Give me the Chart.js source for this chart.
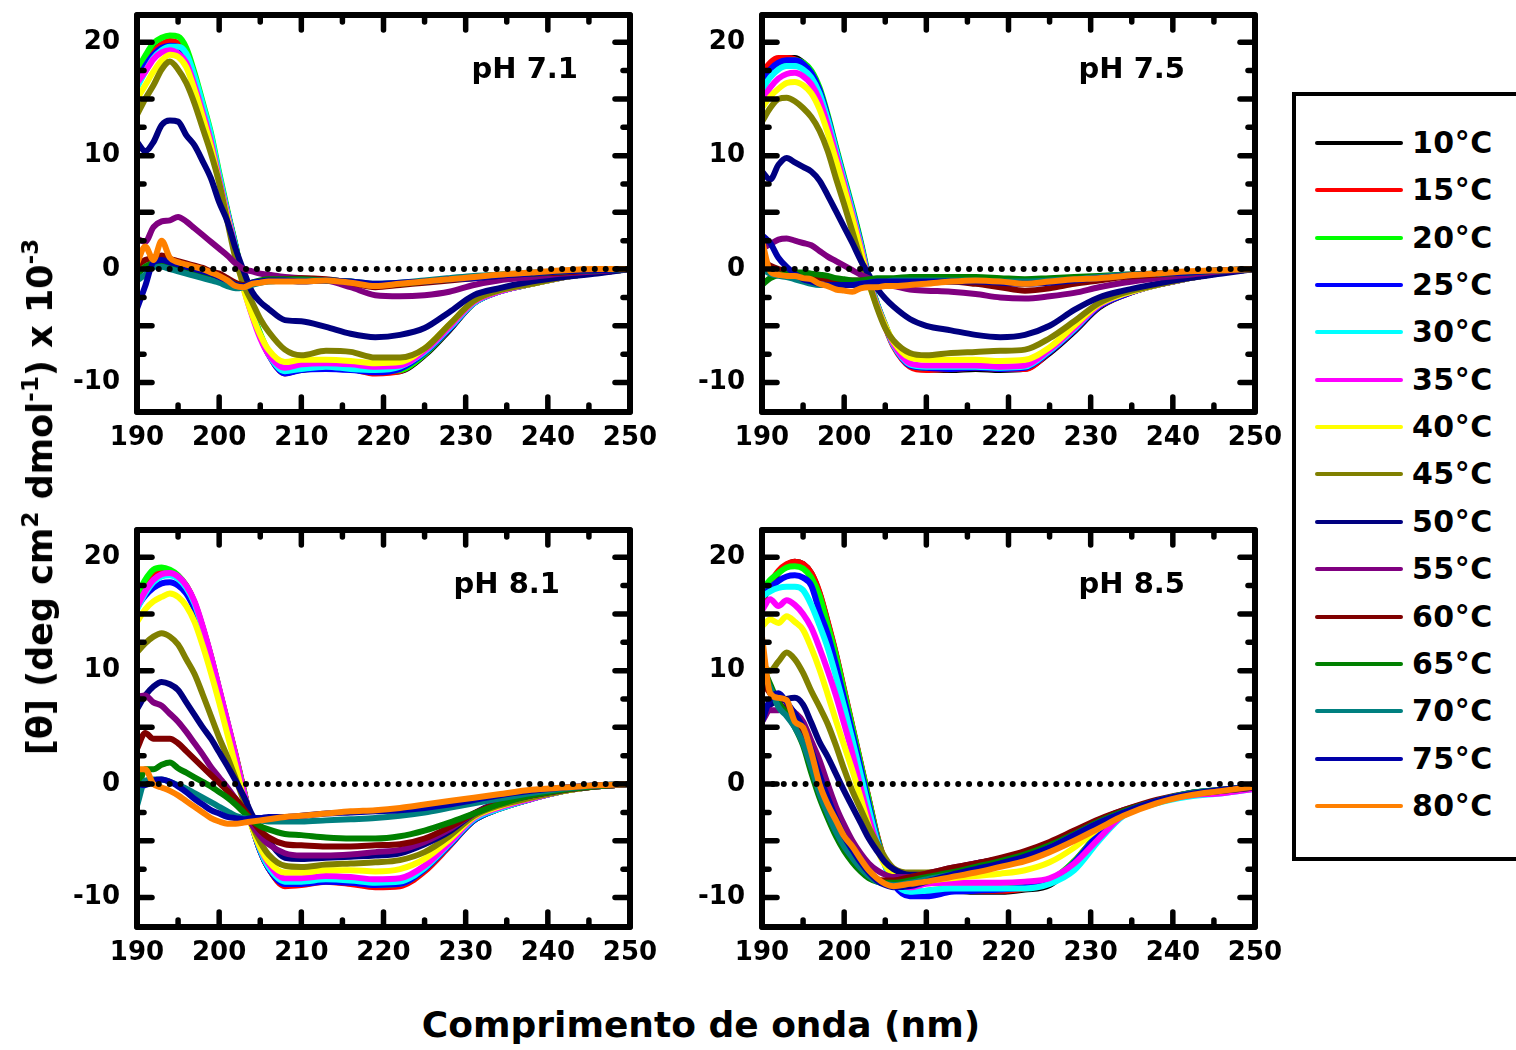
<!DOCTYPE html>
<html>
<head>
<meta charset="utf-8">
<script src="https://cdn.jsdelivr.net/npm/chart.js@4.4.1/dist/chart.umd.min.js"></script>
<style>
  html, body { margin: 0; padding: 0; background: #fff; width: 1516px; height: 1050px; overflow: hidden;
               font-family: 'DejaVu Sans', Verdana, sans-serif; font-weight: bold; color: #000; }
  canvas.panel { position: absolute; }
  #legend { position: absolute; left: 1292px; top: 92px; width: 260px; height: 761px; border: 4px solid #000; }
  #legend .row { position: absolute; left: 0; height: 0; }
  #legend .swatch { position: absolute; left: 19px; width: 88px; height: 4px; top: -2px; border-radius: 2px; }
  #legend .lbl { position: absolute; left: 116px; top: -18px; font-size: 30px; letter-spacing: 0.5px; line-height: 36px; white-space: nowrap; }
  #ytitle { position: absolute; left: 40px; top: 497px; transform: translate(-50%, -50%) rotate(-90deg);
            white-space: nowrap; font-size: 35px; line-height: 40px; }
  #xtitle { position: absolute; left: 701px; top: 1025px; transform: translate(-50%, -50%);
            white-space: nowrap; font-size: 36px; line-height: 40px; }
  .sup { font-size: 0.66em; vertical-align: 0.6em; line-height: 0; }
</style>
</head>
<body>
<canvas id="p71" class="panel" width="610" height="470" style="left:50px;top:0px"></canvas>
<canvas id="p75" class="panel" width="610" height="470" style="left:675px;top:0px"></canvas>
<canvas id="p81" class="panel" width="610" height="470" style="left:50px;top:515px"></canvas>
<canvas id="p85" class="panel" width="610" height="470" style="left:675px;top:515px"></canvas>
<div id="legend"></div>
<div id="ytitle">[θ] (deg cm<span class="sup">2</span> dmol<span class="sup">-1</span>) x 10<span class="sup">-3</span></div>
<div id="xtitle">Comprimento de onda (nm)</div>

<script>
'use strict';

// ── DATA ──────────────────────────────────────────────────────────
var WAVELENGTH = [190,191,192,193,194,195,196,197,198,199,200,201,202,203,204,205,206,208,210,213,216,219,222,225,228,231,234,238,242,246,250];
var TEMPS      = ['10°C','15°C','20°C','25°C','30°C','35°C','40°C','45°C','50°C','55°C','60°C','65°C','70°C','75°C','80°C'];
var COLORS     = ['#000000','#ff0000','#00ff00','#0000ff','#00ffff','#ff00ff','#ffff00','#808000',
                  '#000080','#800080','#800000','#008000','#008080','#0000a8','#ff8000'];
var X_TICKS    = [190,195,200,205,210,215,220,225,230,235,240,245,250];
var Y_TICKS    = [-10,-7.5,-5,-2.5,0,2.5,5,7.5,10,12.5,15,17.5,20];
var PANEL_TITLES = ['pH 7.1','pH 7.5','pH 8.1','pH 8.5'];

// one row per temperature (10 → 80 °C), values x 10^-3
var PH71 = [
  [17.0,18.2,19.2,19.8,20.0,19.8,18.8,16.6,14.2,11.6,8.2,5.0,2.0,-1.5,-3.8,-5.8,-7.4,-9.1,-8.9,-8.7,-8.8,-9.1,-9.0,-7.6,-5.4,-3.0,-2.0,-1.3,-0.7,-0.3,0.0],
  [16.8,18.0,19.1,19.8,20.1,19.9,18.9,16.7,14.3,11.7,8.3,5.0,2.0,-1.5,-3.9,-5.9,-7.5,-9.2,-8.8,-8.6,-8.8,-9.2,-9.0,-7.5,-5.3,-3.0,-2.0,-1.3,-0.7,-0.3,0.0],
  [17.5,18.8,19.9,20.4,20.6,20.5,19.5,17.3,14.7,12.0,8.5,5.2,2.1,-1.3,-3.7,-5.7,-7.3,-9.0,-8.7,-8.5,-8.7,-9.0,-8.9,-7.5,-5.3,-3.0,-2.0,-1.3,-0.7,-0.3,0.0],
  [16.6,17.9,18.9,19.5,19.7,19.6,18.7,16.6,14.1,11.5,8.1,5.0,1.9,-1.5,-3.9,-5.9,-7.5,-9.2,-8.9,-8.8,-8.9,-9.1,-8.8,-7.4,-5.3,-3.0,-2.0,-1.3,-0.7,-0.3,0.0],
  [16.0,17.4,18.6,19.3,19.6,19.6,19.0,17.0,14.5,11.8,8.3,5.0,1.9,-1.5,-3.9,-5.9,-7.5,-9.0,-8.8,-8.6,-8.8,-8.9,-8.6,-7.3,-5.2,-3.0,-2.0,-1.3,-0.7,-0.3,0.0],
  [16.4,17.4,18.5,19.1,19.3,19.0,18.2,16.2,13.8,11.2,7.9,4.8,1.7,-1.7,-4.1,-6.1,-7.5,-8.7,-8.4,-8.3,-8.4,-8.6,-8.5,-7.2,-5.1,-2.9,-2.0,-1.3,-0.7,-0.3,0.0],
  [15.0,16.2,17.4,18.4,18.9,18.7,17.8,15.8,13.4,10.8,7.6,4.5,1.4,-1.8,-4.0,-5.8,-7.1,-8.2,-8.0,-8.0,-8.1,-8.3,-8.2,-7.0,-4.9,-2.8,-1.9,-1.3,-0.7,-0.3,0.0],
  [13.6,15.0,16.2,17.6,18.3,17.6,16.4,14.6,12.4,10.2,7.6,4.2,0.9,-1.4,-2.9,-4.4,-5.5,-7.1,-7.6,-7.2,-7.3,-7.8,-7.8,-7.0,-4.9,-2.8,-1.9,-1.3,-0.7,-0.3,0.0],
  [11.2,10.4,11.2,12.7,13.1,13.0,11.8,10.9,9.5,8.0,5.9,4.2,1.8,-0.2,-2.0,-2.9,-3.5,-4.5,-4.6,-5.1,-5.7,-6.0,-5.8,-5.2,-3.8,-2.3,-1.7,-1.1,-0.7,-0.4,0.0],
  [2.7,2.4,3.7,4.2,4.3,4.6,4.2,3.6,3.0,2.4,1.8,1.2,0.5,0.0,-0.2,-0.4,-0.5,-0.7,-0.8,-1.0,-1.6,-2.3,-2.4,-2.3,-2.0,-1.4,-1.0,-0.7,-0.4,-0.2,0.0],
  [0.3,0.8,1.0,1.2,0.9,0.7,0.5,0.3,0.1,-0.2,-0.4,-0.8,-1.2,-1.4,-1.3,-1.1,-1.0,-0.9,-0.8,-0.9,-1.2,-1.6,-1.4,-1.2,-1.0,-0.8,-0.6,-0.4,-0.3,-0.1,0.0],
  [-0.5,0.2,0.5,0.4,0.2,0.0,-0.2,-0.3,-0.4,-0.5,-0.7,-1.0,-1.4,-1.5,-1.2,-1.0,-0.9,-0.9,-0.9,-1.0,-1.1,-1.4,-1.3,-1.1,-0.9,-0.7,-0.5,-0.4,-0.2,-0.1,0.0],
  [-1.0,-0.5,0.2,0.2,0.0,-0.2,-0.4,-0.6,-0.8,-1.0,-1.2,-1.5,-1.7,-1.6,-1.4,-1.2,-1.1,-1.0,-1.0,-1.0,-1.1,-1.3,-1.2,-1.0,-0.8,-0.6,-0.5,-0.3,-0.2,-0.1,0.0],
  [-3.5,-1.5,0.6,0.8,0.6,0.4,0.2,0.0,-0.2,-0.4,-0.7,-1.0,-1.4,-1.5,-1.2,-1.1,-1.0,-1.0,-1.1,-1.0,-1.1,-1.3,-1.2,-1.1,-0.9,-0.8,-0.6,-0.4,-0.2,-0.1,0.0],
  [0.5,2.0,0.8,2.5,1.0,0.6,0.4,0.2,0.0,-0.3,-0.6,-1.0,-1.5,-1.6,-1.3,-1.2,-1.1,-1.1,-1.1,-1.0,-1.2,-1.5,-1.3,-1.1,-0.9,-0.7,-0.5,-0.3,-0.1,0.0,0.0]
];

var PH75 = [
  [16.8,17.8,18.4,18.6,18.6,18.2,17.4,15.8,13.4,10.6,7.9,5.2,2.3,-0.9,-3.1,-5.0,-6.7,-8.5,-8.8,-8.9,-8.8,-8.9,-8.8,-7.4,-5.5,-3.4,-2.3,-1.4,-0.8,-0.3,0.0],
  [17.3,18.2,18.6,18.6,18.5,18.1,17.3,15.7,13.3,10.5,7.8,5.1,2.2,-1.0,-3.2,-5.1,-6.8,-8.6,-8.9,-8.8,-8.7,-8.8,-8.8,-7.3,-5.4,-3.3,-2.3,-1.4,-0.8,-0.3,0.0],
  [15.8,17.2,18.0,18.3,18.4,18.2,17.5,16.0,13.6,10.8,8.1,5.4,2.5,-0.7,-3.0,-4.9,-6.6,-8.4,-8.7,-8.7,-8.6,-8.7,-8.6,-7.2,-5.3,-3.2,-2.2,-1.4,-0.8,-0.3,0.0],
  [16.5,17.6,18.2,18.4,18.4,18.1,17.3,15.8,13.4,10.6,7.9,5.2,2.3,-0.9,-3.1,-5.0,-6.7,-8.5,-8.7,-8.8,-8.7,-8.8,-8.7,-7.3,-5.4,-3.3,-2.3,-1.4,-0.8,-0.3,0.0],
  [15.8,16.9,17.6,17.9,17.9,17.6,16.9,15.5,13.2,10.5,7.8,5.1,2.2,-0.9,-3.1,-5.0,-6.7,-8.4,-8.6,-8.6,-8.6,-8.7,-8.6,-7.2,-5.3,-3.2,-2.2,-1.4,-0.8,-0.3,0.0],
  [14.8,16.0,16.8,17.2,17.3,17.0,16.3,14.9,12.7,10.1,7.5,4.8,2.0,-1.0,-3.2,-5.0,-6.6,-8.3,-8.5,-8.5,-8.5,-8.6,-8.5,-7.1,-5.2,-3.2,-2.2,-1.4,-0.8,-0.3,0.0],
  [14.2,15.2,15.9,16.4,16.5,16.2,15.5,14.1,12.0,9.6,7.1,4.5,1.7,-1.2,-3.3,-5.0,-6.4,-7.8,-8.0,-8.0,-8.0,-8.1,-8.0,-6.9,-5.0,-3.1,-2.2,-1.4,-0.8,-0.3,0.0],
  [13.0,14.2,15.0,15.1,14.8,14.2,13.4,12.2,10.4,8.0,5.7,3.3,0.9,-1.2,-3.4,-5.2,-6.3,-7.4,-7.6,-7.4,-7.3,-7.2,-7.1,-6.1,-4.6,-3.0,-2.1,-1.4,-0.8,-0.3,0.0],
  [8.6,7.9,9.2,9.8,9.4,9.0,8.6,7.8,6.5,5.1,3.7,2.3,0.8,-0.5,-1.7,-2.6,-3.3,-4.4,-5.0,-5.4,-5.8,-6.0,-5.8,-5.0,-3.6,-2.5,-1.9,-1.3,-0.8,-0.4,0.0],
  [1.8,2.2,2.6,2.7,2.5,2.3,2.1,1.6,1.1,0.7,0.3,-0.1,-0.5,-0.8,-1.1,-1.4,-1.5,-1.8,-1.9,-2.0,-2.2,-2.5,-2.6,-2.4,-2.1,-1.6,-1.2,-0.8,-0.5,-0.2,0.0],
  [0.7,0.3,0.0,-0.2,-0.5,-0.6,-0.7,-0.8,-0.9,-0.9,-1.0,-1.0,-1.0,-1.0,-1.0,-1.0,-1.0,-1.0,-1.1,-1.1,-1.3,-1.6,-1.9,-1.7,-1.3,-1.0,-0.7,-0.5,-0.3,-0.1,0.0],
  [-1.4,-0.8,-0.5,-0.4,-0.3,-0.3,-0.4,-0.5,-0.6,-0.8,-0.9,-1.0,-1.0,-0.9,-0.8,-0.8,-0.8,-0.7,-0.7,-0.7,-0.7,-0.8,-0.9,-0.8,-0.7,-0.6,-0.5,-0.4,-0.3,-0.1,0.0],
  [0.0,-0.4,-0.6,-0.7,-0.9,-1.1,-1.3,-1.4,-1.4,-1.4,-1.4,-1.4,-1.3,-1.2,-1.1,-1.1,-1.0,-1.0,-1.0,-1.0,-1.0,-1.1,-1.1,-1.0,-0.9,-0.7,-0.5,-0.4,-0.3,-0.1,0.0],
  [3.0,2.3,1.0,0.2,-0.4,-0.9,-1.1,-1.3,-1.4,-1.4,-1.4,-1.4,-1.3,-1.2,-1.1,-1.1,-1.1,-1.1,-1.1,-1.1,-1.1,-1.2,-1.3,-1.2,-1.0,-0.8,-0.6,-0.4,-0.3,-0.1,0.0],
  [2.5,-0.2,-0.5,-0.6,-0.6,-0.8,-0.9,-1.3,-1.5,-1.8,-1.9,-2.0,-1.7,-1.6,-1.6,-1.5,-1.5,-1.4,-1.3,-1.1,-1.0,-1.1,-1.3,-1.1,-0.9,-0.8,-0.6,-0.4,-0.2,-0.1,0.0]
];

var PH81 = [
  [16.0,17.5,18.4,18.7,18.6,18.2,17.4,15.9,13.7,11.2,8.3,5.4,2.5,-0.6,-3.6,-5.9,-7.4,-8.9,-8.8,-8.5,-8.7,-9.0,-8.9,-7.6,-5.4,-3.2,-2.2,-1.3,-0.6,-0.2,0.0],
  [15.8,17.4,18.4,18.7,18.7,18.3,17.5,16.0,13.8,11.3,8.4,5.5,2.6,-0.5,-3.6,-5.9,-7.4,-9.0,-8.9,-8.6,-8.8,-9.1,-9.0,-7.7,-5.5,-3.2,-2.2,-1.3,-0.6,-0.2,0.0],
  [16.6,18.0,18.9,19.1,18.9,18.4,17.5,16.0,13.8,11.2,8.3,5.4,2.5,-0.6,-3.6,-5.8,-7.3,-8.7,-8.6,-8.4,-8.6,-8.9,-8.8,-7.5,-5.4,-3.2,-2.2,-1.3,-0.6,-0.2,0.0],
  [15.6,16.6,17.3,17.7,17.8,17.5,16.8,15.4,13.3,10.9,8.1,5.2,2.3,-0.8,-3.7,-5.9,-7.4,-8.8,-8.8,-8.6,-8.7,-8.9,-8.8,-7.5,-5.4,-3.2,-2.2,-1.3,-0.6,-0.2,0.0],
  [15.4,16.8,17.8,18.3,18.4,18.1,17.3,15.9,13.7,11.2,8.3,5.4,2.4,-0.7,-3.6,-5.8,-7.3,-8.6,-8.6,-8.4,-8.5,-8.7,-8.6,-7.4,-5.3,-3.1,-2.2,-1.3,-0.6,-0.2,0.0],
  [15.6,17.0,18.0,18.5,18.6,18.3,17.5,16.1,13.9,11.3,8.4,5.5,2.5,-0.7,-3.5,-5.6,-7.0,-8.3,-8.3,-8.1,-8.2,-8.4,-8.3,-7.2,-5.2,-3.0,-2.1,-1.3,-0.6,-0.2,0.0],
  [14.3,15.4,16.1,16.5,16.8,16.5,15.7,14.3,12.2,9.8,7.2,4.4,1.6,-1.3,-3.8,-5.6,-6.8,-7.8,-7.8,-7.6,-7.6,-7.7,-7.5,-6.6,-4.9,-2.9,-2.0,-1.2,-0.6,-0.2,0.0],
  [11.6,12.4,13.0,13.3,13.0,12.3,11.0,9.7,7.9,6.0,4.1,2.4,0.5,-1.5,-3.6,-5.1,-6.2,-7.2,-7.3,-7.1,-7.0,-6.9,-6.7,-6.0,-4.6,-2.8,-1.9,-1.2,-0.6,-0.2,0.0],
  [6.6,7.8,8.6,9.0,8.8,8.3,7.2,6.1,5.0,4.0,2.8,1.6,0.3,-1.1,-2.7,-4.0,-5.0,-6.5,-6.6,-6.5,-6.4,-6.3,-6.1,-5.3,-4.2,-2.6,-1.6,-1.0,-0.5,-0.2,0.0],
  [7.7,7.8,7.2,6.9,6.2,5.5,4.6,3.6,2.6,1.5,0.6,-0.3,-1.3,-2.4,-3.6,-4.6,-5.3,-6.1,-6.3,-6.3,-6.2,-6.0,-5.8,-5.1,-4.0,-2.6,-1.7,-1.0,-0.5,-0.2,0.0],
  [3.1,4.5,4.0,4.0,4.0,3.6,2.9,2.2,1.5,0.8,0.1,-0.6,-1.3,-2.2,-3.2,-4.1,-4.7,-5.3,-5.4,-5.5,-5.5,-5.4,-5.3,-4.8,-3.8,-2.6,-1.7,-1.0,-0.5,-0.2,0.0],
  [-1.0,1.3,1.3,1.7,1.9,1.4,1.0,0.6,0.2,-0.2,-0.7,-1.2,-1.8,-2.5,-3.2,-3.7,-4.0,-4.4,-4.5,-4.7,-4.8,-4.8,-4.6,-4.1,-3.4,-2.6,-1.8,-1.0,-0.5,-0.2,0.0],
  [-1.9,0.3,0.4,0.4,0.2,-0.1,-0.4,-0.8,-1.2,-1.6,-2.0,-2.4,-2.8,-3.0,-3.1,-3.2,-3.3,-3.3,-3.3,-3.2,-3.1,-3.0,-2.8,-2.5,-2.1,-1.7,-1.3,-0.8,-0.4,-0.1,0.0],
  [0.0,-0.1,0.3,0.4,0.2,-0.2,-0.7,-1.3,-1.8,-2.3,-2.6,-2.9,-3.0,-3.1,-3.0,-3.0,-2.9,-2.9,-2.8,-2.6,-2.5,-2.4,-2.3,-2.1,-1.8,-1.4,-1.0,-0.6,-0.3,-0.1,0.0],
  [1.3,1.3,0.0,-0.3,-0.6,-1.0,-1.5,-2.0,-2.5,-3.0,-3.3,-3.5,-3.5,-3.4,-3.3,-3.2,-3.1,-2.9,-2.8,-2.6,-2.4,-2.3,-2.1,-1.8,-1.5,-1.2,-0.9,-0.5,-0.3,-0.1,0.0]
];

var PH85 = [
  [16.0,17.5,18.6,19.3,19.6,19.4,18.6,16.8,14.2,11.4,8.2,5.0,1.8,-1.4,-4.6,-7.0,-8.6,-9.8,-9.6,-9.4,-9.5,-9.5,-9.3,-8.9,-7.0,-4.4,-2.6,-1.6,-0.9,-0.6,-0.3],
  [16.2,17.7,18.8,19.4,19.6,19.4,18.6,16.9,14.3,11.5,8.3,5.1,1.9,-1.3,-4.5,-6.9,-8.5,-9.7,-9.5,-9.3,-9.4,-9.4,-9.2,-8.7,-6.8,-4.3,-2.5,-1.5,-0.9,-0.6,-0.3],
  [17.1,18.0,18.6,19.1,19.2,19.0,18.2,16.6,14.0,11.3,8.1,5.0,1.8,-1.4,-4.6,-7.0,-8.6,-9.6,-9.4,-9.2,-9.2,-9.2,-9.0,-8.5,-6.8,-4.3,-2.5,-1.5,-0.9,-0.6,-0.3],
  [16.5,17.3,17.9,18.3,18.4,18.2,17.5,15.2,13.2,10.5,7.5,4.5,1.4,-1.8,-4.8,-7.2,-8.8,-9.9,-9.9,-9.5,-9.4,-9.3,-9.1,-8.6,-6.9,-4.4,-2.6,-1.6,-0.9,-0.6,-0.3],
  [16.5,17.0,17.3,17.4,17.4,17.1,15.8,14.0,12.0,9.5,6.8,3.9,0.9,-2.2,-5.0,-7.2,-8.6,-9.5,-9.4,-9.2,-9.2,-9.2,-9.2,-8.8,-7.6,-5.0,-2.8,-1.7,-1.1,-0.8,-0.4],
  [15.3,16.3,15.7,16.2,15.8,15.0,13.8,12.0,10.0,7.8,5.3,2.7,-0.3,-3.0,-5.3,-7.0,-8.1,-9.1,-8.8,-8.7,-8.7,-8.7,-8.6,-8.3,-7.0,-4.8,-2.7,-1.6,-1.0,-0.8,-0.4],
  [13.9,14.5,14.2,14.8,14.3,13.6,12.0,10.1,7.9,5.6,3.4,1.2,-1.2,-3.7,-5.7,-7.2,-8.0,-8.7,-8.5,-8.3,-8.1,-7.9,-7.6,-6.9,-5.6,-3.9,-2.5,-1.5,-0.9,-0.6,-0.3],
  [10.5,10.0,10.8,11.6,11.0,9.8,8.2,6.8,5.3,3.4,1.3,-0.6,-2.2,-3.8,-5.2,-6.5,-7.4,-7.8,-7.8,-7.6,-7.2,-6.8,-6.2,-5.3,-4.3,-3.3,-2.4,-1.5,-0.9,-0.6,-0.3],
  [6.0,7.0,7.3,7.5,7.6,7.0,5.4,3.7,2.4,0.9,-0.6,-2.0,-3.4,-4.8,-5.9,-6.9,-7.5,-8.0,-8.0,-7.5,-7.0,-6.6,-6.1,-5.3,-4.3,-3.3,-2.4,-1.5,-0.9,-0.6,-0.3],
  [5.5,6.5,6.5,6.8,6.3,5.5,3.8,2.1,0.0,-2.0,-3.6,-5.0,-6.1,-7.0,-7.6,-8.0,-8.2,-8.2,-7.9,-7.4,-7.0,-6.6,-6.0,-5.2,-4.2,-3.2,-2.3,-1.5,-0.9,-0.6,-0.3],
  [9.0,8.0,7.2,6.4,5.5,4.0,1.8,-0.4,-2.3,-4.0,-5.3,-6.4,-7.3,-8.0,-8.4,-8.5,-8.5,-8.2,-7.9,-7.4,-7.0,-6.5,-5.9,-5.1,-4.1,-3.1,-2.3,-1.4,-0.8,-0.5,-0.2],
  [10.5,8.8,7.2,6.2,5.0,3.4,1.0,-1.2,-3.0,-4.6,-5.9,-6.9,-7.7,-8.3,-8.6,-8.7,-8.7,-8.5,-8.2,-7.8,-7.3,-6.8,-6.2,-5.4,-4.4,-3.3,-2.4,-1.5,-0.8,-0.5,-0.2],
  [10.0,8.5,6.8,6.0,5.0,3.6,1.5,-0.8,-2.6,-4.2,-5.5,-6.5,-7.4,-8.1,-8.6,-8.8,-8.9,-8.7,-8.4,-8.0,-7.6,-7.1,-6.5,-5.6,-4.5,-3.4,-2.5,-1.5,-0.8,-0.5,-0.2],
  [5.5,7.5,8.0,7.2,6.2,5.0,3.0,0.8,-1.2,-3.0,-4.6,-5.8,-6.9,-7.8,-8.5,-8.9,-9.1,-9.0,-8.6,-8.0,-7.5,-7.0,-6.4,-5.6,-4.5,-3.4,-2.5,-1.5,-0.9,-0.5,-0.2],
  [13.0,8.0,7.6,7.4,5.5,5.0,2.8,0.0,-1.8,-3.2,-4.6,-5.5,-6.6,-7.6,-8.3,-8.8,-9.0,-8.8,-8.6,-8.2,-7.8,-7.3,-6.8,-6.0,-5.0,-3.9,-2.8,-1.7,-1.0,-0.6,-0.2]
];

// ── PLUGIN: moldura, ticks para dentro e título do painel ─────────
var frameTicks = {
  id: 'frameTicks',
  afterDatasetsDraw: function (chart, args, opts) {
    var ctx = chart.ctx, a = chart.chartArea;
    var sx = chart.scales.x, sy = chart.scales.y;
    ctx.save();
    ctx.strokeStyle = '#000';
    ctx.lineCap = 'round';
    ctx.lineWidth = 5.5;
    function seg(x1, y1, x2, y2) { ctx.beginPath(); ctx.moveTo(x1, y1); ctx.lineTo(x2, y2); ctx.stroke(); }

    sx.ticks.forEach(function (t) {
      var px = sx.getPixelForValue(t.value);
      var len = t.value % 10 === 0 ? 15 : 7;
      seg(px, a.top, px, a.top + len);
      seg(px, a.bottom, px, a.bottom - len);
    });
    sy.ticks.forEach(function (t) {
      var py = sy.getPixelForValue(t.value);
      var len = t.value % 5 === 0 ? 15 : 7;
      seg(a.left, py, a.left + len, py);
      seg(a.right, py, a.right - len, py);
    });

    ctx.lineWidth = 6;
    ctx.lineJoin = 'round';
    ctx.strokeRect(a.left, a.top, a.right - a.left, a.bottom - a.top);

    ctx.fillStyle = '#000';
    ctx.font = 'bold 29px "DejaVu Sans"';
    ctx.textAlign = 'right';
    ctx.textBaseline = 'middle';
    ctx.fillText(opts.title, a.right - opts.titleRight, a.top + 55);
    ctx.restore();
  }
};

// ── CHART ─────────────────────────────────────────────────────────
function buildDatasets(rows) {
  var sets = [{
    label: 'zero',
    data: [{ x: 190, y: 0 }, { x: 250, y: 0 }],
    borderColor: '#000',
    borderWidth: 6,
    borderDash: [0, 10.9],
    borderCapStyle: 'round',
    pointRadius: 0,
    order: 0
  }];
  rows.forEach(function (vals, i) {
    sets.push({
      label: TEMPS[i],
      data: WAVELENGTH.map(function (w, k) { return { x: w, y: vals[k] }; }),
      borderColor: COLORS[i],
      borderWidth: 6,
      pointRadius: 0,
      cubicInterpolationMode: 'monotone',
      borderJoinStyle: 'round',
      borderCapStyle: 'round',
      order: TEMPS.length - i
    });
  });
  return sets;
}

function makePanel(id, rows, title, titleRight) {
  var tickFont = { family: 'DejaVu Sans', size: 26, weight: 'bold' };
  return new Chart(document.getElementById(id), {
    type: 'line',
    data: { datasets: buildDatasets(rows) },
    plugins: [frameTicks],
    options: {
      responsive: false,
      animation: false,
      events: [],
      layout: { padding: { top: 15, right: 30, left: 0, bottom: 0 } },
      plugins: {
        legend: { display: false },
        tooltip: { enabled: false },
        frameTicks: { title: title, titleRight: titleRight }
      },
      scales: {
        x: {
          type: 'linear', min: 190, max: 250,
          grid: { display: false, drawTicks: false },
          border: { display: false },
          afterBuildTicks: function (s) { s.ticks = X_TICKS.map(function (v) { return { value: v }; }); },
          afterFit: function (s) { s.height = 58; s.paddingLeft = 0; s.paddingRight = 0; },
          ticks: {
            autoSkip: false, maxRotation: 0, padding: 11, color: '#000', font: tickFont,
            callback: function (v) { return v % 10 === 0 ? String(v) : ''; }
          }
        },
        y: {
          type: 'linear', min: -12.6, max: 22.4,
          grid: { display: false, drawTicks: false },
          border: { display: false },
          afterBuildTicks: function (s) { s.ticks = Y_TICKS.map(function (v) { return { value: v }; }); },
          afterFit: function (s) { s.width = 87; s.paddingTop = 0; s.paddingBottom = 0; },
          ticks: {
            autoSkip: false, padding: 17, color: '#000', font: tickFont,
            callback: function (v) { return v % 10 === 0 ? String(v) : ''; }
          }
        }
      }
    }
  });
}

makePanel('p71', PH71, PANEL_TITLES[0], 52);
makePanel('p75', PH75, PANEL_TITLES[1], 70);
makePanel('p81', PH81, PANEL_TITLES[2], 70);
makePanel('p85', PH85, PANEL_TITLES[3], 70);

// ── LEGENDA ───────────────────────────────────────────────────────
(function buildLegend() {
  var box = document.getElementById('legend');
  TEMPS.forEach(function (t, i) {
    var row = document.createElement('div');
    row.className = 'row';
    row.style.top = (47 + i * 47.35) + 'px';
    row.innerHTML = '<div class="swatch" style="background:' + COLORS[i] + '"></div>' +
                    '<div class="lbl">' + t + '</div>';
    box.appendChild(row);
  });
})();
</script>
</body>
</html>
